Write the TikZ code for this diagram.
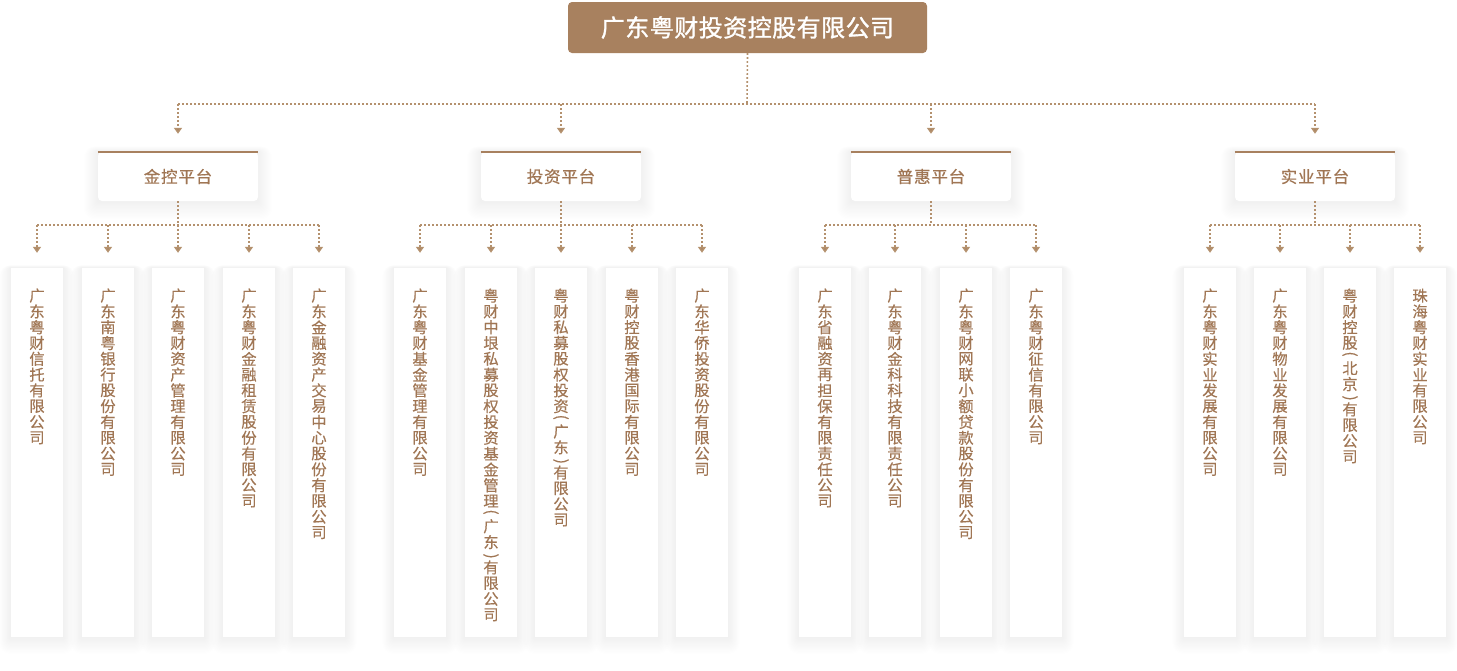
\documentclass[tikz,border=0pt]{standalone}
\usepackage{fontspec}
\usepackage{graphicx}
\setmainfont{Noto Sans CJK SC}
\newfontfamily\titlefont{Noto Sans CJK SC}[FakeBold=1.2,LetterSpace=2]
\newfontfamily\colfont{Noto Sans CJK SC}[FakeBold=0.4]
\newfontfamily\platfont{Noto Sans CJK SC}[FakeBold=0.4,LetterSpace=5]
\usetikzlibrary{arrows.meta}
\definecolor{cbrown}{HTML}{A8815F}
\definecolor{ctext}{HTML}{A07654}
\definecolor{cline}{HTML}{B4916E}
\definecolor{shcol}{HTML}{7A6050}
\pgfdeclarelayer{bgzero}
\pgfdeclarelayer{shadowlayer}
\pgfsetlayers{bgzero,shadowlayer,main}
\def\vsEND{VSE}
\def\vsLP{VSLP}
\def\vsRP{VSRP}
\def\vschar#1{\hbox to 16pt{\hss\vbox to 15.8pt{\vss\hbox{#1}\vss}\hss}}
\def\vsparenL{\hbox to 16pt{\hss\vbox to 9.5pt{\vss\hbox{\rotatebox[origin=c]{-90}{(}}\vss\kern1pt}\hss}}
\def\vsparenR{\hbox to 16pt{\hss\vbox to 9.5pt{\kern5pt\vss\hbox{\rotatebox[origin=c]{-90}{)}}\vss}\hss}}
\def\vsitem#1{\ifx#1\vsLP\vsparenL\else\ifx#1\vsRP\vsparenR\else\vschar{#1}\fi\fi}
\def\vstackA#1{\ifx#1\vsEND\else\vsitem#1\expandafter\vstackA\fi}
\newcommand\vstack[1]{\vbox{\offinterlineskip\expandafter\vstackA#1\vsEND}}
\newcommand\softshadow[4]{% node, side spread/step, top spread/step, bottom spread/step
  \begin{pgfonlayer}{shadowlayer}
  \foreach \i in {1,...,14}{
    \fill[shcol, opacity=0.0045, rounded corners=\i*0.8pt]
      ([xshift=-\i*#2pt, yshift=\i*#3pt]#1.north west) rectangle
      ([xshift=\i*#2pt, yshift=-\i*#4pt]#1.south east);
  }
  \end{pgfonlayer}}
\tikzset{
  topbox/.style={fill=cbrown, rounded corners=4pt, minimum width=359pt, minimum height=51pt, inner sep=0pt,
    text=white, font=\titlefont\fontsize{24}{26}\selectfont},
  platbox/.style={fill=white, rounded corners=4pt, minimum width=160pt, minimum height=49pt, inner sep=0pt,
    text=ctext, font=\platfont\fontsize{16.5}{18}\selectfont},
  colbox/.style={fill=white, minimum width=52.6pt, minimum height=369pt, inner sep=0pt},
  coltext/.style={anchor=north, inner sep=0pt, text=ctext, font=\colfont\fontsize{15.3}{15.8}\selectfont},
  dotline/.style={draw=cline, line width=1.6pt, dash pattern=on 1.6pt off 2.4pt},
  arr/.style={dotline, -{Triangle[width=8pt,length=6pt,fill=cbrown]}},
}
\begin{document}
\begin{tikzpicture}[x=1pt,y=-1pt]
\useasboundingbox (0,0) rectangle (1457,670);
\begin{pgfonlayer}{bgzero}
\fill[white] (0,0) rectangle (1457,670);
\end{pgfonlayer}

% top
\node[topbox] (top) at (747.5,27.5) {广东粤财投资控股有限公司};
\coordinate (tb) at (747,104);

% platforms
\node[platbox] (p1) at (178,176.5) {金控平台};
\node[platbox] (p2) at (561,176.5) {投资平台};
\node[platbox] (p3) at (931,176.5) {普惠平台};
\node[platbox] (p4) at (1315,176.5) {实业平台};
\foreach \p in {p1,p2,p3,p4}{
  \softshadow{\p}{1.0}{0.4}{1.3}
  \draw[cbrown, line width=2pt] (\p.north west) -- (\p.north east);
}

\draw[dotline] (top.south) -- (tb);
\draw[dotline] (p1 |- tb) -- (p4 |- tb);
\foreach \p in {p1,p2,p3,p4}{
  \draw[arr, shorten >=18pt] (\p |- tb) -- (\p.north);
}

% columns
\def\colmid{452.5}
\def\texttop{287.5}
\foreach \n/\x/\t in {
  c11/37/广东粤财信托有限公司,
  c12/108/广东南粤银行股份有限公司,
  c13/178/广东粤财资产管理有限公司,
  c14/249/广东粤财金融租赁股份有限公司,
  c15/319/广东金融资产交易中心股份有限公司,
  c21/420/广东粤财基金管理有限公司,
  c22/491/粤财中垠私募股权投资基金管理\vsLP 广东\vsRP 有限公司,
  c23/561/粤财私募股权投资\vsLP 广东\vsRP 有限公司,
  c24/632/粤财控股香港国际有限公司,
  c25/702/广东华侨投资股份有限公司,
  c31/825/广东省融资再担保有限责任公司,
  c32/895/广东粤财金科科技有限责任公司,
  c33/966/广东粤财网联小额贷款股份有限公司,
  c34/1036/广东粤财征信有限公司,
  c41/1210/广东粤财实业发展有限公司,
  c42/1280/广东粤财物业发展有限公司,
  c43/1350/粤财控股\vsLP 北京\vsRP 有限公司,
  c44/1420/珠海粤财实业有限公司}{
  \node[colbox] (\n) at (\x,\colmid) {};
  \softshadow{\n}{0.8}{0.2}{1.2}
  \node[coltext] (\n t) at (\x,\texttop) {\vstack{\t}};
}

% group bars
\coordinate (b1) at (178,225);
\coordinate (b2) at (561,225);
\coordinate (b3) at (931,225);
\coordinate (b4) at (1315,225);
\draw[dotline] (p1.south) -- (b1);
\draw[dotline] (p2.south) -- (b2);
\draw[dotline] (p3.south) -- (b3);
\draw[dotline] (p4.south) -- (b4);
\draw[dotline] (c11 |- b1) -- (c15 |- b1);
\draw[dotline] (c21 |- b2) -- (c25 |- b2);
\draw[dotline] (c31 |- b3) -- (c34 |- b3);
\draw[dotline] (c41 |- b4) -- (c44 |- b4);
\foreach \n in {c11,c12,c13,c14,c15}{\draw[arr, shorten >=15pt] (\n |- b1) -- (\n.north);}
\foreach \n in {c21,c22,c23,c24,c25}{\draw[arr, shorten >=15pt] (\n |- b2) -- (\n.north);}
\foreach \n in {c31,c32,c33,c34}{\draw[arr, shorten >=15pt] (\n |- b3) -- (\n.north);}
\foreach \n in {c41,c42,c43,c44}{\draw[arr, shorten >=15pt] (\n |- b4) -- (\n.north);}
\end{tikzpicture}
\end{document}
